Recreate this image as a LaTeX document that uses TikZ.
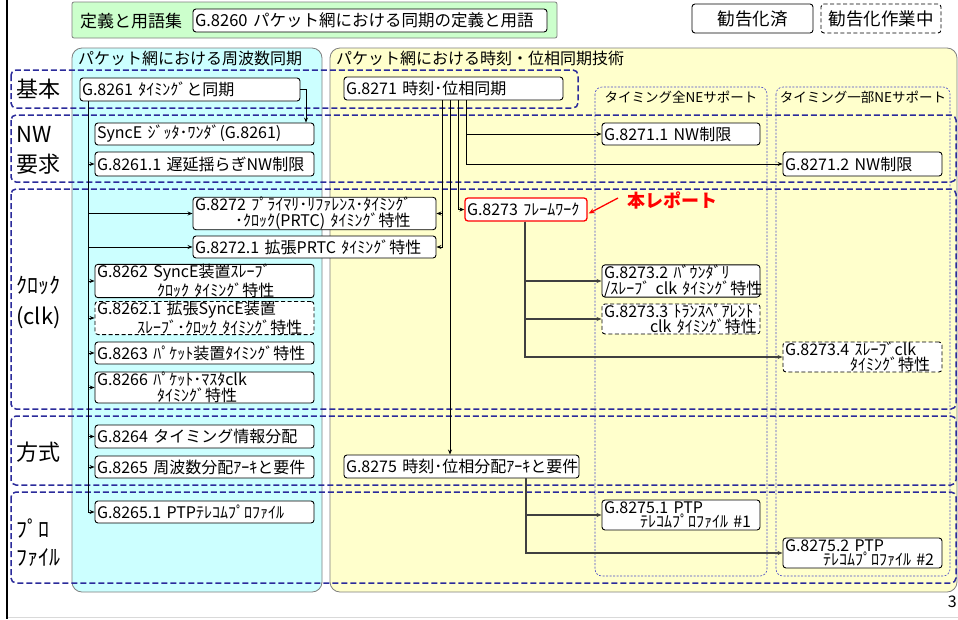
\documentclass[tikz,border=0pt]{standalone}
\usepackage{fontspec}
\setmainfont{Noto Sans CJK JP}
\usetikzlibrary{arrows.meta,calc}
\definecolor{cyanbg}{HTML}{CCFFFF}
\definecolor{yellowbg}{HTML}{FFFFCC}
\definecolor{greenbg}{HTML}{CCFFCC}
\definecolor{bandblue}{HTML}{2B2B9B}
\definecolor{subblue}{HTML}{4A4AC8}
\definecolor{panelgray}{HTML}{7F7F7F}
\definecolor{repred}{HTML}{FF0000}
\newcommand\refbox[7][]{%
  \pgfmathsetmacro\rbw{#5-#3}\pgfmathsetmacro\rbh{#6-#4}%
  \pgfmathsetmacro\rbtw{#5-#3-4}%
  \pgfmathsetmacro\rbcx{(#3+#5)/2}\pgfmathsetmacro\rbcy{(#4+#6)/2}%
  \node[box,minimum width=\rbw pt,minimum height=\rbh pt,text width=\rbtw pt,#1] (#2) at (\rbcx,\rbcy) {#7};}
\begin{document}
\begin{tikzpicture}[x=1pt,y=-1pt,
  box/.style={draw=black, fill=white, rounded corners=3pt, line width=0.9pt,
    inner xsep=2pt, inner ysep=0pt, align=left, font=\fontsize{16}{14.5}\selectfont},
  dbox/.style={dash pattern=on 4pt off 2.5pt},
  rbox/.style={draw=repred, line width=1.3pt},
  arr/.style={-{Stealth[length=5pt,width=4pt]}, line width=0.8pt, black},
  arrg/.style={-{Stealth[length=5pt,width=4pt]}, line width=1.1pt, black!75},
  band/.style={draw=bandblue, line width=1.5pt, dash pattern=on 6pt off 3pt, rounded corners=5pt},
  subp/.style={draw=subblue, line width=0.6pt, dash pattern=on 2pt off 1.5pt, rounded corners=7pt},
  panel/.style={draw=panelgray, line width=0.8pt, rounded corners=10pt},
  lbl/.style={font=\fontsize{22}{30}\selectfont, align=left, anchor=west, inner sep=0pt},
  ttl/.style={font=\fontsize{16}{18}\selectfont, anchor=west, inner sep=0pt},
  sttl/.style={font=\fontsize{13.5}{15}\selectfont, inner sep=0pt}
]
\useasboundingbox[fill=white] (0,0) rectangle (958,619);
% slide edges
\draw[line width=2pt, black] (7,0) -- (7,619);
\draw[line width=0.8pt, black!15] (8,617.5) -- (958,617.5);

% header
\draw[fill=greenbg, draw=panelgray, line width=0.8pt, rounded corners=2pt] (72,2) rectangle (557,38);
\node[ttl, font=\fontsize{17}{19}\selectfont] (hdr) at (80,21) {定義と用語集};
\refbox[font=\fontsize{16.5}{18}\selectfont]{b8260}{193}{9}{547}{32}{\mbox{G.8260 パケット網における同期の定義と用語}}
\refbox[align=center, font=\fontsize{17.5}{19}\selectfont]{leg1}{692}{4}{813}{33}{勧告化済}
\refbox[dbox, align=center, font=\fontsize{17.5}{19}\selectfont]{leg2}{821}{4}{941}{33}{勧告化作業中}

% panels
\draw[panel, fill=cyanbg] (72,48) rectangle (322,592);
\draw[panel, fill=yellowbg] (330,48) rectangle (957,592);
\node[ttl] (tcy) at (78,58) {パケット網における周波数同期};
\node[ttl] (tye) at (336,58) {パケット網における時刻・位相同期技術};

% sub panels
\draw[subp] (595,87) rectangle (767,576);
\draw[subp] (776,87) rectangle (950,576);
\node[sttl] (s1) at (681,97) {タイミング全NEサポート};
\node[sttl] (s2) at (863,97) {タイミング一部NEサポート};

% bands
\draw[band] (11,70) rectangle (578,108);
\draw[band] (11,115) rectangle (956,182);
\draw[band] (11,189) rectangle (956,409);
\draw[band] (11,416) rectangle (956,485);
\draw[band] (11,492) rectangle (956,583);

% row labels
\node[lbl] (lk) at (16,89) {基本};
\node[lbl] (lnw) at (16,150) {NW\\要求};
\node[lbl, font=\fontsize{22}{31}\selectfont] (lcl) at (16,302) {ｸﾛｯｸ\\(clk)};
\node[lbl] (lho) at (16,452) {方式};
\node[lbl, font=\fontsize{22}{28}\selectfont] (lpr) at (16,543) {ﾌﾟﾛ\\ﾌｧｲﾙ};

% boxes : left column
\refbox{b8261}{80}{78}{300}{101}{\mbox{G.8261 ﾀｲﾐﾝｸﾞと同期}}
\refbox{bsyn}{95}{123}{314}{145}{\mbox{SyncE ｼﾞｯﾀ･ﾜﾝﾀﾞ(G.8261)}}
\refbox{b82611}{95}{152}{314}{176}{\mbox{G.8261.1 遅延揺らぎNW制限}}
\refbox{b8272}{193}{199}{436}{228}{\mbox{G.8272 ﾌﾟﾗｲﾏﾘ･ﾘﾌｧﾚﾝｽ･ﾀｲﾐﾝｸﾞ}\\\hspace*{40pt}\mbox{･ｸﾛｯｸ(PRTC) ﾀｲﾐﾝｸﾞ特性}}
\refbox{b82721}{193}{236}{436}{258}{\mbox{G.8272.1 拡張PRTC ﾀｲﾐﾝｸﾞ特性}}
\refbox{b8262}{95}{266}{314}{296}{\mbox{G.8262 SyncE装置ｽﾚｰﾌﾞ}\\\hspace*{60pt}\mbox{ｸﾛｯｸ ﾀｲﾐﾝｸﾞ特性}}
\refbox[dbox]{b82621}{95}{303}{314}{333}{\mbox{G.8262.1 拡張SyncE装置}\\\hspace*{40pt}\mbox{ｽﾚｰﾌﾞ･ｸﾛｯｸ ﾀｲﾐﾝｸﾞ特性}}
\refbox{b8263}{95}{342}{314}{364}{\mbox{G.8263 ﾊﾟｹｯﾄ装置ﾀｲﾐﾝｸﾞ特性}}
\refbox{b8266}{95}{372}{314}{403}{\mbox{G.8266 ﾊﾟｹｯﾄ･ﾏｽﾀclk}\\\hspace*{60pt}\mbox{ﾀｲﾐﾝｸﾞ特性}}
\refbox{b8264}{95}{425}{314}{448}{\mbox{G.8264 タイミング情報分配}}
\refbox{b8265}{95}{456}{314}{478}{\mbox{G.8265 周波数分配ｱｰｷと要件}}
\refbox{b82651}{95}{501}{314}{523}{\mbox{G.8265.1 PTPﾃﾚｺﾑﾌﾟﾛﾌｧｲﾙ}}

% middle
\refbox{b8271}{344}{77}{563}{100}{\mbox{G.8271 時刻･位相同期}}
\refbox[rbox]{b8273}{465}{198}{587}{221}{\mbox{G.8273 ﾌﾚｰﾑﾜｰｸ}}
\refbox{b8275}{344}{455}{579}{478}{\mbox{G.8275 時刻･位相分配ｱｰｷと要件}}

% right columns
\refbox{b82711}{602}{123}{760}{145}{\mbox{G.8271.1 NW制限}}
\refbox{b82712}{783}{152}{942}{176}{\mbox{G.8271.2 NW制限}}
\refbox{b82732}{602}{266}{760}{296}{\mbox{G.8273.2 ﾊﾞｳﾝﾀﾞﾘ}\\\mbox{/ｽﾚｰﾌﾞ clk ﾀｲﾐﾝｸﾞ特性}}
\refbox[dbox]{b82733}{602}{304}{760}{334}{\mbox{G.8273.3 ﾄﾗﾝｽﾍﾟｱﾚﾝﾄ}\\\hspace*{46pt}\mbox{clk ﾀｲﾐﾝｸﾞ特性}}
\refbox[dbox]{b82734}{783}{342}{942}{372}{\mbox{G.8273.4 ｽﾚｰﾌﾞclk}\\\hspace*{65pt}\mbox{ﾀｲﾐﾝｸﾞ特性}}
\refbox{b82751}{602}{500}{760}{530}{\mbox{G.8275.1 PTP}\\\hspace*{36pt}\mbox{ﾃﾚｺﾑﾌﾟﾛﾌｧｲﾙ \#1}}
\refbox{b82752}{783}{538}{942}{568}{\mbox{G.8275.2 PTP}\\\hspace*{38pt}\mbox{ﾃﾚｺﾑﾌﾟﾛﾌｧｲﾙ \#2}}

% report callout
\node[font=\fontsize{18}{20}\selectfont\bfseries, text=repred, anchor=west, inner sep=0pt] (rep) at (627,200) {本レポート};
\draw[-{Stealth[length=6pt,width=5pt]}, line width=1.3pt, repred] ($(rep.west)+(-9,-2)$) -- ($(b8273.east)+(1,4)$);

% connectors from G.8261
\coordinate (lv) at (88,0);
\coordinate (sx) at (306,0);
\draw[arr] (b8261.east) -| (bsyn.north -| sx);
\foreach \t in {b82611,b8272,b82721,b8262,b82621,b8263,b8266,b8264,b8265,b82651}
  \draw[arr] (b8261.south -| lv) |- (\t.west);

% connectors from G.8271
\coordinate (xa) at (442,0);
\coordinate (xb) at (450,0);
\coordinate (xc) at (458,0);
\coordinate (xd) at (466,0);
\draw[arr] (b8271.south -| xa) |- (b8272.east);
\draw[arr] (b8271.south -| xa) |- (b82721.east);
\draw[arr] (b8271.south -| xb) -- (b8275.north -| xb);
\draw[arr] (b8271.south -| xc) |- (b8273.west);
\draw[arr] (b8271.south -| xd) |- (b82711.west);
\draw[arr] (b8271.south -| xd) |- (b82712.west);

% connectors from G.8273
\coordinate (ta) at (525,0);
\foreach \t in {b82732,b82733,b82734}
  \draw[arrg] (b8273.south -| ta) |- (\t.west);

% connectors from G.8275
\coordinate (tb) at (526,0);
\foreach \t in {b82751,b82752}
  \draw[arrg] (b8275.south -| tb) |- (\t.west);

% page number
\node[font=\fontsize{16}{18}\selectfont, anchor=east, inner sep=0pt] (pg) at (957,602) {3};
\end{tikzpicture}
\end{document}
